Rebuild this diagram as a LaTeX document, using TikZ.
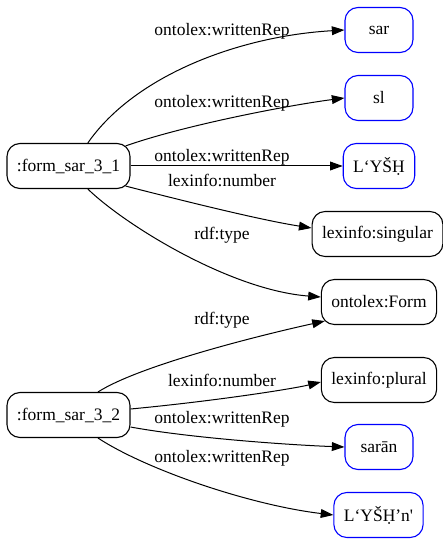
\documentclass[tikz,border=0pt]{standalone}
\usepackage{fontspec}
\setmainfont{Liberation Serif}
\usetikzlibrary{arrows.meta}
\begin{document}
\begin{tikzpicture}[x=1pt,y=-1pt,
  every node/.style={font=\fontsize{17.5}{21}\selectfont},
  res/.style={draw=black, line width=1.1pt, rounded corners=13pt,
    minimum width=68pt, minimum height=45pt, inner xsep=10pt},
  lit/.style={res, draw=blue},
  rel/.style={draw, line width=1pt, -{Triangle[length=12.6pt,width=8.8pt]}},
  lab/.style={inner sep=0pt}
]
\useasboundingbox (0,0) rectangle (443,540);

% subject forms
\node[res] (f1) at (68.5,166) {:form\_sar\_3\_1};
\node[res] (f2) at (68.5,415) {:form\_sar\_3\_2};

% objects
\node[lit] (sar)   at (379,30)  {sar};
\node[lit] (sl)    at (379,98)  {sl};
\node[lit] (lysh)  at (379,166) {L‘YŠḤ};
\node[res] (sing)  at (377.5,234) {lexinfo:singular};
\node[res] (form)  at (379,302) {ontolex:Form};
\node[res] (plur)  at (379,380) {lexinfo:plural};
\node[lit] (saran) at (379,447) {sarān};
\node[lit] (lyshn) at (378.5,515) {L‘YŠḤ’n\textquotesingle};

% edges of :form_sar_3_1
\draw[rel] (f1.50) .. controls (135,75) and (240,36) .. (sar.west);
\draw[rel] ([shift={(-5,3)}]f1.north east) .. controls (185,125) and (290,105) .. (sl.west);
\draw[rel] (f1.east) -- (lysh.west);
\draw[rel] ([shift={(-5,-3)}]f1.south east) .. controls (180,200) and (260,220) .. ([shift={(0,-6)}]sing.west);
\draw[rel] (f1.-50) .. controls (125,225) and (230,290) .. ([shift={(0,-5)}]form.west);

% edges of :form_sar_3_2
\draw[rel] (f2.38) .. controls (142,364) and (270,333) .. ([shift={(4,-4)}]form.south west);
\draw[rel] ([shift={(0,-6)}]f2.east) .. controls (215,401) and (292,389) .. ([shift={(0,2)}]plur.west);
\draw[rel] ([shift={(0,12)}]f2.east) .. controls (190,438) and (290,445) .. (saran.west);
\draw[rel] (f2.-38) .. controls (147,470) and (250,505) .. (lyshn.west);

% edge labels
\node[lab] (l1) at (222,31)  {ontolex:writtenRep};
\node[lab] (l2) at (222,103) {ontolex:writtenRep};
\node[lab] (l3) at (222,157) {ontolex:writtenRep};
\node[lab] (l4) at (222,180) {lexinfo:number};
\node[lab] (l5) at (222,235) {rdf:type};
\node[lab] (l6) at (222,320) {rdf:type};
\node[lab] (l7) at (222,380) {lexinfo:number};
\node[lab] (l8) at (222,419) {ontolex:writtenRep};
\node[lab] (l9) at (222,458) {ontolex:writtenRep};
\end{tikzpicture}
\end{document}
